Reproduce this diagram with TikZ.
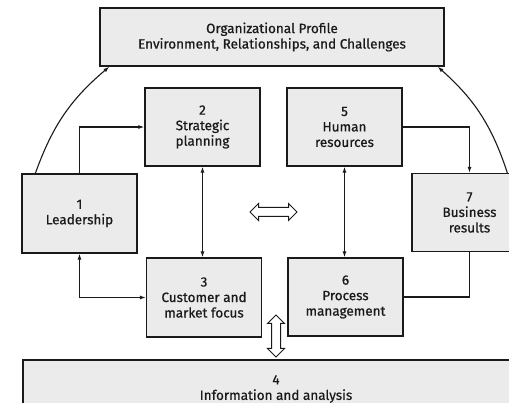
\documentclass[tikz,border=0pt]{standalone}
\usepackage{fontspec}
\setsansfont{Fira Sans}[FakeBold=0.7]
\usetikzlibrary{arrows.meta,shapes.arrows}
\definecolor{Ink}{HTML}{1A1A1A}
\definecolor{Speck}{HTML}{EBEBEB}

\begin{document}
\begin{tikzpicture}[x=1pt,y=-1pt,>={Latex[length=6pt,width=4pt]},
  blk/.style={draw=Ink,fill=Speck,line width=1.3pt,inner sep=0pt,align=center,minimum width=115pt,minimum height=78pt,text=Ink,font=\sffamily\fontsize{13.5}{15.5}\selectfont},
  link/.style={Ink,line width=1.1pt},
  fat/.style={double arrow,draw=Ink,fill=white,line width=1pt,inner xsep=0pt,inner ysep=4pt,double arrow head extend=4pt}]
\useasboundingbox (0,0) rectangle (509,403);
\clip (0,0) rectangle (509,403);
\node[blk,minimum width=344pt,minimum height=58pt] (prof) at (272,37) {Organizational Profile\\Environment, Relationships, and Challenges};
\node[blk] (plan) at (202.5,127) {2\\Strategic\\planning};
\node[blk] (hr) at (344.5,127) {5\\Human\\resources};
\node[blk,minimum height=79pt] (lead) at (79.5,213.5) {1\\Leadership};
\node[blk] (results) at (469.5,212.5) {7\\Business\\results};
\node[blk,minimum height=79pt] (cust) at (204,297.5) {3\\Customer and\\market focus};
\node[blk] (proc) at (345.5,297) {6\\Process\\management};
\node[blk,minimum width=506pt,minimum height=58pt] (info) at (276,389) {4\\Information and analysis};
\node[fat,minimum height=47pt] (swap) at (273.5,212) {};
\node[fat,minimum height=42pt,rotate=90] (feed) at (276,336) {};
\draw[link,->] ([xshift=14pt]lead.north west) to[bend left=15] ([xshift=10pt]prof.south west);
\draw[link,->] ([xshift=96pt]results.north west) to[bend right=15] ([xshift=-7pt]prof.south east);
\draw[link,->] (lead.north) |- (plan.west);
\draw[link,->] (hr.east) -| (results.north);
\draw[link,<->] (plan.south) -- (plan.south |- cust.north);
\draw[link,<->] (hr.south) -- (hr.south |- proc.north);
\draw[link,<->] (cust.west) -| (lead.south);
\draw[link] (proc.east) -| (results.south);
\end{tikzpicture}
\end{document}
